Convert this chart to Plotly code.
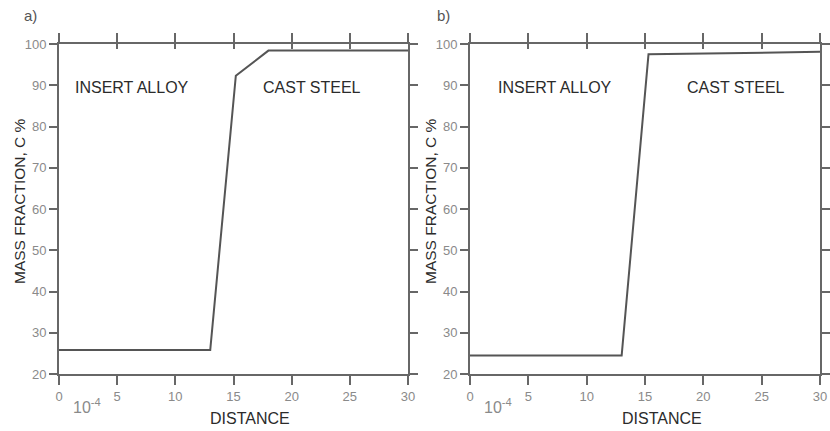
import plotly.graph_objects as go

# Carbon mass-fraction profiles across the insert/cast-steel interface
distance_a = [0, 13, 15.2, 18, 30]
mass_frac_a = [25.8, 25.8, 92.3, 98.4, 98.4]

distance_b = [0, 13, 15.3, 30]
mass_frac_b = [24.5, 24.5, 97.5, 98.1]

x_ticks = [0, 5, 10, 15, 20, 25, 30]
y_ticks = [20, 30, 40, 50, 60, 70, 80, 90, 100]
panel_labels = ["a)", "b)"]
region_labels = ["INSERT ALLOY", "CAST STEEL"]

W, H = 830, 431
FONT = "Liberation Sans, Arial, sans-serif"
AXIS_COLOR = "#676767"
LINE_COLOR = "#555555"
TICK_TEXT = "#8a8a8a"
TEXT = "#2b2b2b"

# pixel extents of each panel's plotting area
panels = [
    dict(x0=59, x1=408, cx_ins=132, cx_cast=312, lab_x=30, ytitle_x=19, dist_x=250, exp_x=87),
    dict(x0=470, x1=820, cx_ins=555, cx_cast=736, lab_x=443, ytitle_x=430, dist_x=662, exp_x=498),
]
TOP, BOTTOM = 44, 374

def px(x):
    return x / W

def py(y):
    return 1 - y / H

fig = go.Figure()
series = [(distance_a, mass_frac_a), (distance_b, mass_frac_b)]

layout = dict(
    template="none",
    width=W, height=H,
    margin=dict(l=0, r=0, t=0, b=0, pad=0, autoexpand=False),
    paper_bgcolor="white", plot_bgcolor="white",
    showlegend=False,
    font=dict(family=FONT, color=TEXT),
)

def note(text, x, y, size, color, **kw):
    return dict(text=text, x=px(x), y=py(y), xref="paper", yref="paper",
                xanchor="center", yanchor="middle", showarrow=False,
                font=dict(size=size, color=color, family=FONT), **kw)

annotations = []
for i, (p, (xs, ys)) in enumerate(zip(panels, series)):
    n = i + 1
    xa = "x" if n == 1 else f"x{n}"
    ya = "y" if n == 1 else f"y{n}"
    xkey = "xaxis" if n == 1 else f"xaxis{n}"
    ykey = "yaxis" if n == 1 else f"yaxis{n}"
    fig.add_trace(go.Scatter(
        x=xs, y=ys, xaxis=xa, yaxis=ya, mode="lines",
        line=dict(color=LINE_COLOR, width=2), hoverinfo="skip",
    ))
    layout[xkey] = dict(
        domain=[px(p["x0"]), px(p["x1"])], anchor=ya, range=[0, 30],
        tickvals=x_ticks, ticks="outside", ticklen=9, tickwidth=2, tickcolor=AXIS_COLOR,
        showline=True, linecolor=AXIS_COLOR, linewidth=2, mirror="ticks",
        showgrid=False, zeroline=False, automargin=False,
        tickfont=dict(size=13, color=TICK_TEXT, family=FONT),
    )
    layout[ykey] = dict(
        domain=[py(BOTTOM), py(TOP)], anchor=xa, range=[20, 100],
        tickvals=y_ticks, ticks="outside", ticklen=8, tickwidth=2, tickcolor=AXIS_COLOR,
        showline=True, linecolor=AXIS_COLOR, linewidth=2, mirror="ticks",
        showgrid=False, zeroline=False, automargin=False,
        tickfont=dict(size=13, color=TICK_TEXT, family=FONT),
    )
    # inward half of the top-edge ticks so they cross the frame
    ov = f"xaxis{n + 2}"
    ov_ref = f"x{n + 2}"
    layout[ov] = dict(
        domain=[px(p["x0"]), px(p["x1"])], anchor=ya, overlaying=xa, side="top",
        range=[0, 30], tickvals=x_ticks, ticks="inside", ticklen=5, tickwidth=2,
        tickcolor=AXIS_COLOR, showticklabels=False, showline=False,
        showgrid=False, zeroline=False, automargin=False,
    )
    fig.add_trace(go.Scatter(x=[None], y=[None], xaxis=ov_ref, yaxis=ya,
                             mode="lines", hoverinfo="skip"))

    annotations += [
        note(panel_labels[i], p["lab_x"], 15, 15, "#555555"),
        note(region_labels[0], p["cx_ins"], 87, 16, TEXT),
        note(region_labels[1], p["cx_cast"], 87, 16, TEXT),
        note("MASS FRACTION, C %", p["ytitle_x"], 201, 15.5, TEXT, textangle=-90),
        note("DISTANCE", p["dist_x"], 418, 16, TEXT),
        note("10<sup>-4</sup>", p["exp_x"], 406, 16, TICK_TEXT),
    ]

layout["annotations"] = annotations
fig.update_layout(**layout)
fig.write_html("out.html")
